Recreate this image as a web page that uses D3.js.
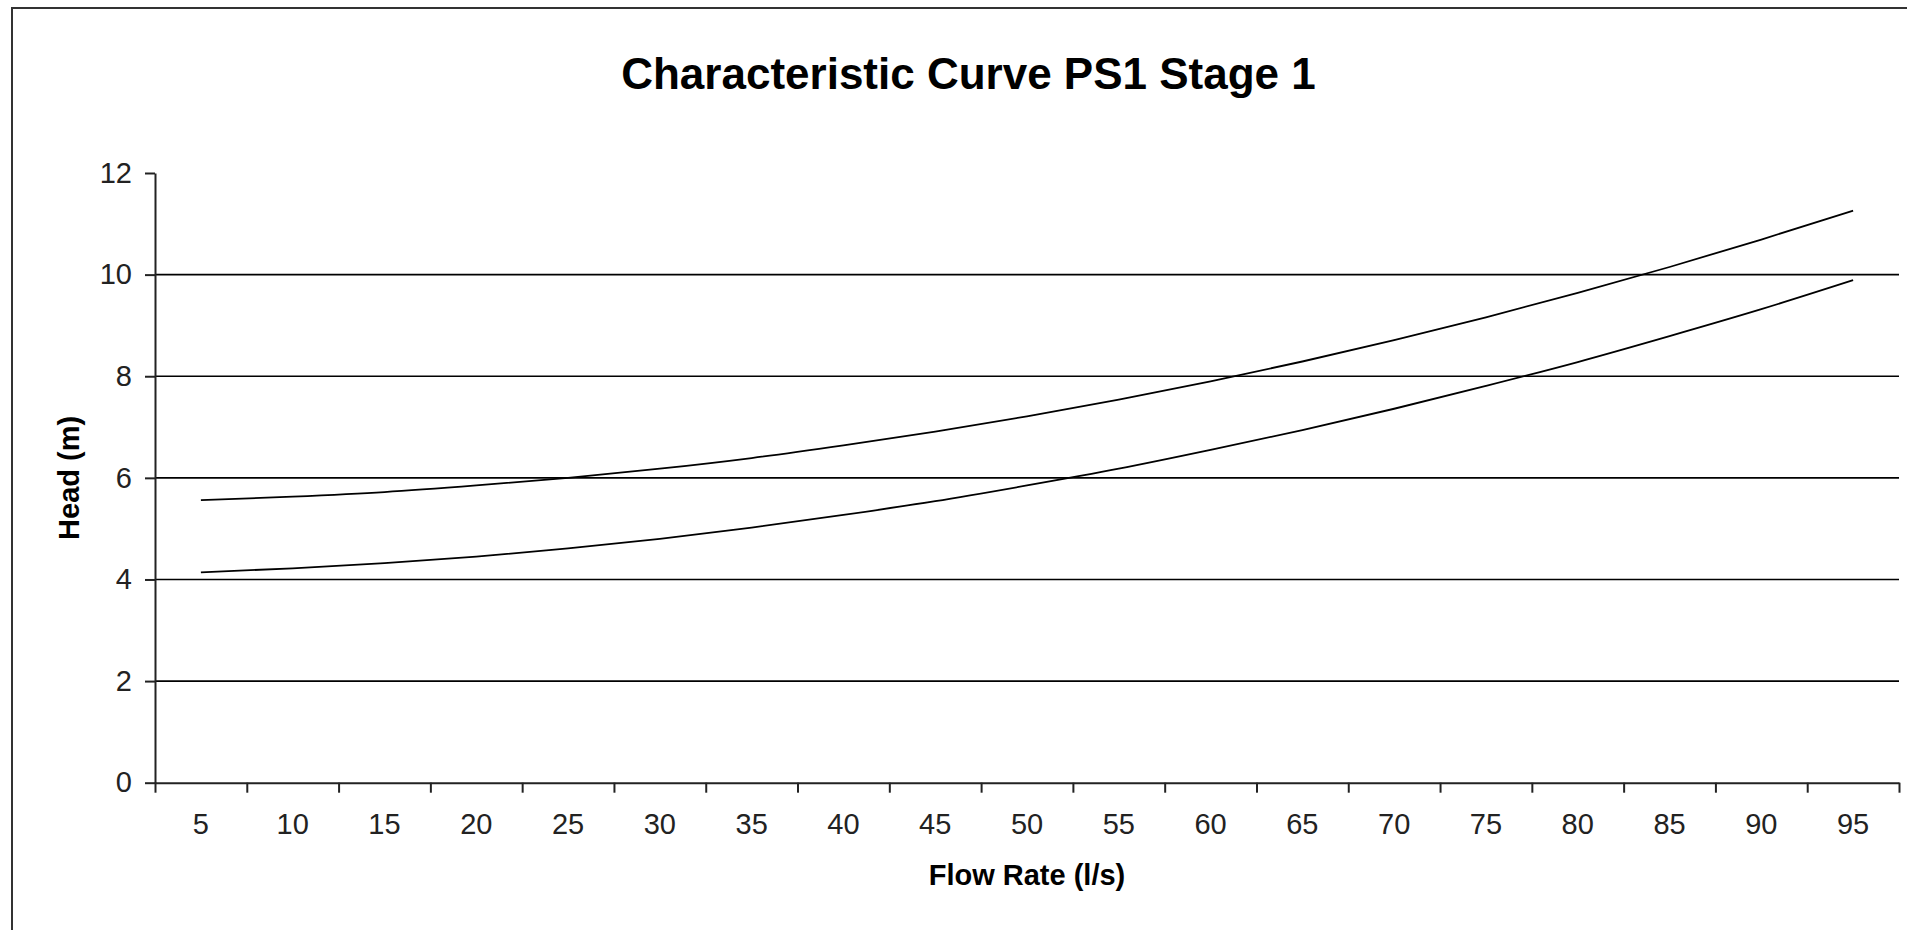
<!DOCTYPE html>
<html>
<head>
<meta charset="utf-8">
<script src="https://cdn.jsdelivr.net/npm/d3@7/dist/d3.min.js"></script>
<style>
  html, body { margin: 0; padding: 0; background: #fff; overflow: hidden; }
  svg { display: block; font-family: "Liberation Sans", Arial, sans-serif; }
</style>
</head>
<body>
<svg id="chart" width="1907" height="930"></svg>
<script>
// ---- data ----
const flowRates = [5, 10, 15, 20, 25, 30, 35, 40, 45, 50, 55, 60, 65, 70, 75, 80, 85, 90, 95];
const curveUpper = [5.56, 5.63, 5.72, 5.85, 6.00, 6.18, 6.39, 6.64, 6.91, 7.21, 7.54, 7.90, 8.29, 8.71, 9.16, 9.64, 10.15, 10.69, 11.26];
const curveLower = [4.14, 4.22, 4.32, 4.45, 4.61, 4.80, 5.02, 5.27, 5.54, 5.85, 6.18, 6.55, 6.94, 7.36, 7.81, 8.28, 8.79, 9.32, 9.89];
const yTicks = [0, 2, 4, 6, 8, 10, 12];
const gridValues = [2, 4, 6, 8, 10];
const titleText = "Characteristic Curve PS1 Stage 1";
const xTitle = "Flow Rate (l/s)";
const yTitle = "Head (m)";

(function () {
  // ---- layout ----
  const svg = d3.select("#chart");
  const plotLeft = 155, plotRight = 1899, plotTop = 173, plotBottom = 782.7;

  // outer chart border (extends past the right/bottom edges)
  svg.append("rect")
    .attr("x", 12).attr("y", 8)
    .attr("width", 2000).attr("height", 1000)
    .attr("fill", "none").attr("stroke", "#333").attr("stroke-width", 2);

  const x = d3.scaleBand().domain(flowRates).range([plotLeft, plotRight]).padding(0);
  const xEdge = d3.scaleLinear().domain([0, flowRates.length]).range([plotLeft, plotRight]);
  const y = d3.scaleLinear().domain([0, 12]).range([plotBottom, plotTop]);

  // gridlines
  svg.append("g").selectAll("line").data(gridValues).join("line")
    .attr("x1", plotLeft).attr("x2", plotRight)
    .attr("y1", d => y(d)).attr("y2", d => y(d))
    .attr("stroke", "#000").attr("stroke-width", 1.6);

  // y axis
  const yAxis = svg.append("g").attr("transform", `translate(${plotLeft},0)`)
    .call(d3.axisLeft(y).tickValues(yTicks).tickSize(10).tickPadding(13).tickSizeOuter(0));
  yAxis.select(".domain").attr("stroke", "#222").attr("stroke-width", 2);
  yAxis.selectAll(".tick line").attr("stroke", "#222").attr("stroke-width", 2);
  yAxis.selectAll(".tick text").attr("font-size", 29).attr("fill", "#222")
    .attr("font-family", "Liberation Sans, Arial, sans-serif");

  // x axis: tick marks at category boundaries
  const xTickAxis = svg.append("g").attr("transform", `translate(0,${plotBottom})`)
    .call(d3.axisBottom(xEdge).tickValues(d3.range(0, flowRates.length + 1)).tickSize(10).tickSizeOuter(0).tickFormat(""));
  xTickAxis.select(".domain").attr("stroke", "#222").attr("stroke-width", 2);
  xTickAxis.selectAll(".tick line").attr("stroke", "#222").attr("stroke-width", 2);

  // x axis: category labels centred in each band
  const xLabAxis = svg.append("g").attr("transform", `translate(0,${plotBottom})`)
    .call(d3.axisBottom(x).tickSize(0).tickPadding(31));
  xLabAxis.select(".domain").remove();
  xLabAxis.selectAll(".tick text").attr("font-size", 29).attr("fill", "#222")
    .attr("font-family", "Liberation Sans, Arial, sans-serif");

  // curves
  const line = d3.line()
    .x((d, i) => x(flowRates[i]) + x.bandwidth() / 2)
    .y(d => y(d))
    .curve(d3.curveMonotoneX);

  [curveUpper, curveLower].forEach(series => {
    svg.append("path").datum(series)
      .attr("d", line)
      .attr("fill", "none").attr("stroke", "#000").attr("stroke-width", 1.8);
  });

  // titles
  svg.append("text").attr("x", 968.5).attr("y", 89)
    .attr("text-anchor", "middle").attr("font-size", 44).attr("font-weight", "bold")
    .attr("fill", "#000").text(titleText);

  svg.append("text").attr("x", (plotLeft + plotRight) / 2).attr("y", 885)
    .attr("text-anchor", "middle").attr("font-size", 29).attr("font-weight", "bold")
    .attr("fill", "#000").text(xTitle);

  svg.append("text")
    .attr("transform", `translate(79,${(plotTop + plotBottom) / 2}) rotate(-90)`)
    .attr("text-anchor", "middle").attr("font-size", 29).attr("font-weight", "bold")
    .attr("fill", "#000").text(yTitle);
})();
</script>
</body>
</html>
